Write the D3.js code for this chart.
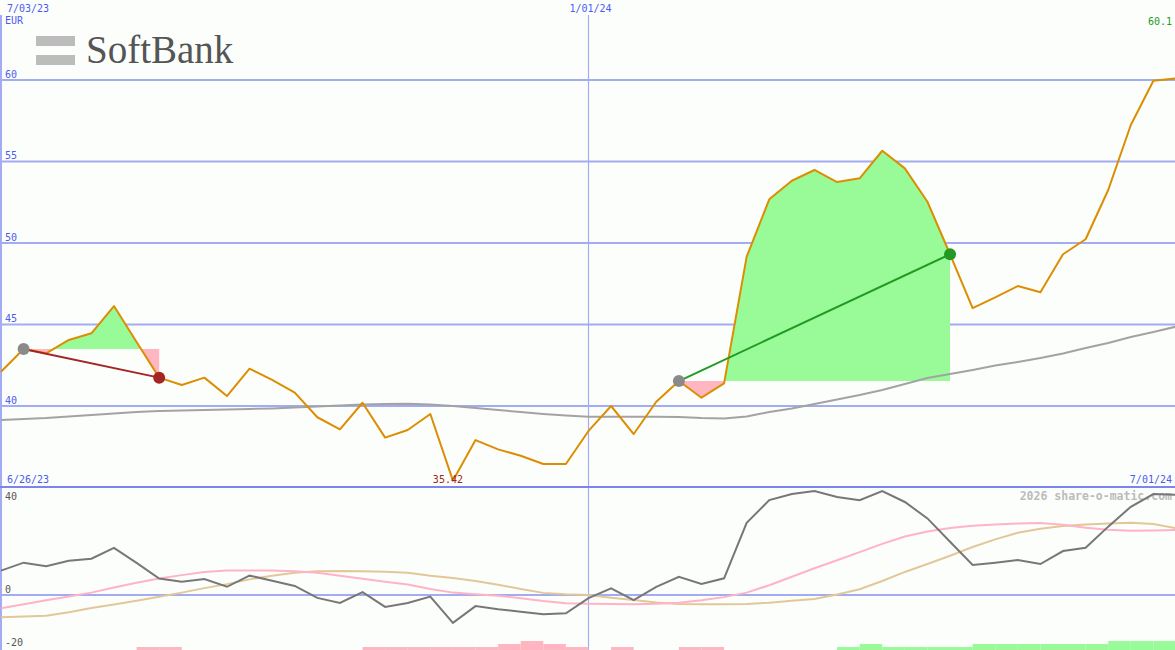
<!DOCTYPE html>
<html><head><meta charset="utf-8">
<script src="https://cdn.jsdelivr.net/npm/d3@7"></script>
<style>
html,body{margin:0;padding:0;background:#fcfefc;}
svg{display:block;}
text{font-family:"DejaVu Sans Mono",monospace;}
</style>
</head><body>
<svg id="c" width="1175" height="650"></svg>
<script>
// ---------- data ----------
const startDate = new Date(2023, 6, 3);
const weekIndex = d3.range(53);
const dates = weekIndex.map(i => d3.timeDay.offset(startDate, 7 * i));

const price = [42.10, 43.50, 43.23, 44.05, 44.46, 46.13, 43.93, 41.74, 41.29, 41.74,
  40.61, 42.29, 41.60, 40.82, 39.31, 38.57, 40.20, 38.06, 38.53, 39.51,
  35.42, 37.91, 37.34, 36.95, 36.44, 36.44, 38.47, 40.00, 38.28, 40.26,
  41.53, 40.51, 41.39, 49.16, 52.68, 53.82, 54.48, 53.74, 53.97, 55.66,
  54.58, 52.53, 49.31, 46.00, 46.67, 47.36, 46.98, 49.31, 50.23, 53.25,
  57.24, 59.95, 60.10];

const movingAvg = [39.14, 39.20, 39.26, 39.36, 39.45, 39.54, 39.63, 39.69, 39.72, 39.75,
  39.79, 39.82, 39.85, 39.91, 39.97, 40.03, 40.09, 40.12, 40.14, 40.09,
  40.00, 39.88, 39.75, 39.63, 39.51, 39.42, 39.34, 39.34, 39.34, 39.34,
  39.33, 39.26, 39.24, 39.36, 39.63, 39.85, 40.12, 40.40, 40.67, 40.98,
  41.35, 41.72, 41.96, 42.21, 42.48, 42.70, 42.94, 43.22, 43.56, 43.87,
  44.23, 44.54, 44.87];

const oscillator = [9.2, 12.2, 10.9, 12.9, 13.7, 17.8, 12.1, 6.2, 5.0, 6.0,
  3.1, 7.3, 5.4, 3.4, -1.1, -3.0, 1.1, -4.5, -3.0, -0.6,
  -10.5, -4.2, -5.4, -6.3, -7.3, -6.9, -1.2, 2.5, -1.9, 3.1,
  6.9, 4.2, 6.3, 27.2, 35.8, 38.1, 39.2, 37.0, 35.8, 39.2,
  35.1, 28.9, 20.1, 11.3, 12.2, 13.2, 11.7, 16.6, 17.8, 25.8,
  33.3, 38.1, 37.8];

const oscFast = [-5.0, -3.5, -2.0, -0.6, 0.9, 2.8, 4.6, 6.2, 7.5, 8.7,
  9.2, 9.2, 9.2, 9.0, 8.4, 7.3, 6.1, 5.0, 4.0, 2.3,
  0.9, 0.3, -0.3, -1.2, -2.3, -3.1, -3.3, -3.4, -3.5, -3.3,
  -2.9, -2.0, -0.8, 0.9, 3.7, 6.9, 10.1, 13.1, 16.2, 19.3,
  22.1, 24.0, 25.3, 26.1, 26.6, 27.0, 27.2, 26.5, 25.4, 24.6,
  24.2, 24.3, 24.5];

const oscSlow = [-8.4, -8.1, -7.8, -6.5, -4.9, -3.6, -2.2, -0.7, 0.9, 2.6,
  4.1, 5.9, 7.3, 8.4, 9.0, 9.1, 9.0, 8.8, 8.4, 7.3,
  6.4, 5.3, 3.9, 2.3, 0.8, 0.3, 0.0, -1.0, -1.9, -2.8,
  -3.4, -3.5, -3.5, -3.4, -2.9, -2.2, -1.5, 0.2, 2.2, 5.3,
  8.7, 11.7, 14.8, 18.1, 21.0, 23.5, 25.0, 26.0, 26.6, 27.0,
  27.3, 26.8, 25.2];

const signalBars = [0, 0, 0, 0, 0, 0, -1, -1, 0, 0,
  0, 0, 0, 0, 0, 0, -1, -1, -1, -1,
  -1, -1, -2, -3, -2, -1, 0, -1, 0, 0,
  -1, -1, 0, 0, 0, 0, 0, 1, 2, 1,
  1, 1, 1, 2, 2, 2, 2, 2, 2, 3,
  3, 3, 0];

const tradeEntries = [1, 30];
const tradeExits = [7, 42];

const priceTicks = [60, 55, 50, 45, 40];
const oscTicks = [40, 0, -20];
const oscGridTicks = [0];
const dateMarks = [0, 26];
const topDateLabels = ["7/03/23", "1/01/24"];
const bottomDateLabels = ["6/26/23", "7/01/24"];
const currency = "EUR";
const companyName = "SoftBank";
const watermark = "2026 share-o-matic.com";

// ---------- drawing ----------
const W = 1175, H = 650;
const svg = d3.select("#c");
const fmt = d3.format(".2f");

const x = d3.scaleTime().domain([dates[0], dates[52]]).range([1, 1176]);
const y = d3.scaleLinear().domain([40, 60]).range([406, 80]);
const yo = d3.scaleLinear().domain([0, 40]).range([595, 489]);
const yb = d3.scaleLinear().domain([0, 3]).range([650, 641]);
const step = x(dates[1]) - x(dates[0]);

const gridCol = "#a3abf2", textBlue = "#4b5cf0";

svg.append("rect").attr("width", W).attr("height", H).attr("fill", "#fcfefc");

// logo
const logo = svg.append("g");
logo.append("rect").attr("x", 36).attr("y", 36).attr("width", 39).attr("height", 10).attr("fill", "#bcbcbc");
logo.append("rect").attr("x", 36).attr("y", 55).attr("width", 39).attr("height", 10).attr("fill", "#bcbcbc");
logo.append("text").text(companyName).attr("x", 86).attr("y", 63)
  .style("font-family", "'Liberation Serif','Times New Roman',serif").style("font-size", "39px")
  .attr("fill", "#555");

// horizontal grid (price)
svg.append("g").selectAll("line").data(priceTicks).join("line")
  .attr("x1", 0).attr("x2", W).attr("y1", d => y(d)).attr("y2", d => y(d))
  .attr("stroke", gridCol).attr("stroke-width", 2);
svg.append("g").selectAll("text").data(priceTicks).join("text")
  .text(d => d).attr("x", 5).attr("y", d => y(d) - 2.5)
  .attr("fill", textBlue).style("font-size", "10px");

// oscillator grid
svg.append("g").selectAll("line").data(oscGridTicks).join("line")
  .attr("x1", 0).attr("x2", W).attr("y1", d => yo(d)).attr("y2", d => yo(d))
  .attr("stroke", gridCol).attr("stroke-width", 2);

// vertical date lines
svg.append("g").selectAll("line").data(dateMarks).join("line")
  .attr("x1", d => x(dates[d])).attr("x2", d => x(dates[d]))
  .attr("y1", 15).attr("y2", H)
  .attr("stroke", gridCol).attr("stroke-width", d => d === 0 ? 2 : 1.2);

// panel separator
svg.append("line").attr("x1", 0).attr("x2", W).attr("y1", 487).attr("y2", 487)
  .attr("stroke", "#7c84ee").attr("stroke-width", 2);

// date labels
svg.append("text").text(topDateLabels[0]).attr("x", 7).attr("y", 12).attr("fill", textBlue).style("font-size", "10px");
svg.append("text").text(topDateLabels[1]).attr("x", x(dates[26]) + 2).attr("y", 12).attr("text-anchor", "middle").attr("fill", textBlue).style("font-size", "10px");
svg.append("text").text(currency).attr("x", 5).attr("y", 24).attr("fill", textBlue).style("font-size", "10px");
svg.append("text").text(bottomDateLabels[0]).attr("x", 7).attr("y", 483).attr("fill", textBlue).style("font-size", "10px");
svg.append("text").text(bottomDateLabels[1]).attr("x", 1172).attr("y", 483).attr("text-anchor", "end").attr("fill", textBlue).style("font-size", "10px");

// trade fills
const defs = svg.append("defs");
tradeEntries.forEach((e, k) => {
  const xEnd = tradeExits[k];
  const base = price[e];
  const idx = d3.range(e, xEnd + 1);
  const area = d3.area().x(i => x(dates[i])).y0(y(base)).y1(i => y(price[i]));
  defs.append("clipPath").attr("id", "up" + k).append("rect")
    .attr("x", 0).attr("y", 0).attr("width", W).attr("height", y(base));
  defs.append("clipPath").attr("id", "dn" + k).append("rect")
    .attr("x", 0).attr("y", y(base)).attr("width", W).attr("height", H - y(base));
  svg.append("path").datum(idx).attr("d", area).attr("fill", "#98fb98").attr("clip-path", `url(#up${k})`);
  svg.append("path").datum(idx).attr("d", area).attr("fill", "#ffb6c1").attr("clip-path", `url(#dn${k})`);
});

// moving average
svg.append("path").datum(weekIndex)
  .attr("d", d3.line().x(i => x(dates[i])).y(i => y(movingAvg[i])))
  .attr("fill", "none").attr("stroke", "#a3a3a3").attr("stroke-width", 2);

// price line
svg.append("path").datum(weekIndex)
  .attr("d", d3.line().x(i => x(dates[i])).y(i => y(price[i])))
  .attr("fill", "none").attr("stroke", "#dc8e02").attr("stroke-width", 2).attr("stroke-linejoin", "round");

// trade lines and markers
tradeEntries.forEach((e, k) => {
  const xe = tradeExits[k];
  const win = price[xe] > price[e];
  const col = win ? "#229a22" : "#a52424";
  svg.append("line").attr("x1", x(dates[e])).attr("y1", y(price[e]))
    .attr("x2", x(dates[xe])).attr("y2", y(price[xe]))
    .attr("stroke", col).attr("stroke-width", 2);
  svg.append("circle").attr("cx", x(dates[e])).attr("cy", y(price[e])).attr("r", 6).attr("fill", "#8a8a8a");
  svg.append("circle").attr("cx", x(dates[xe])).attr("cy", y(price[xe])).attr("r", 6).attr("fill", col);
});

// min / last labels
const minI = d3.minIndex(price);
svg.append("text").text(fmt(price[minI])).attr("x", x(dates[minI]) - 5).attr("y", 483)
  .attr("text-anchor", "middle").attr("fill", "#a52424").style("font-size", "10px");
svg.append("text").text(d3.format(".1f")(price[52])).attr("x", 1172).attr("y", 25)
  .attr("text-anchor", "end").attr("fill", "#229a22").style("font-size", "10px");

// oscillator labels
svg.append("g").selectAll("text").data(oscTicks).join("text")
  .text(d => d).attr("x", 5)
  .attr("y", d => d === 40 ? yo(d) + 11 : yo(d) - 2.5)
  .attr("fill", "#555").style("font-size", "10px");

// watermark
svg.append("text").text(watermark).attr("x", 1172).attr("y", 500).attr("text-anchor", "end")
  .attr("fill", "#bbb").style("font-size", "11.5px").style("font-weight", "bold");

// signal bars
svg.append("g").selectAll("rect").data(weekIndex.filter(i => signalBars[i] !== 0)).join("rect")
  .attr("x", i => x(dates[i])).attr("width", step)
  .attr("y", i => yb(Math.abs(signalBars[i]))).attr("height", i => H - yb(Math.abs(signalBars[i])))
  .attr("fill", i => signalBars[i] > 0 ? "#98fb98" : "#ffb6c1");

// oscillator lines
const oscLine = arr => d3.line().x(i => x(dates[i])).y(i => yo(arr[i]));
svg.append("path").datum(weekIndex).attr("d", oscLine(oscSlow))
  .attr("fill", "none").attr("stroke", "#e2c898").attr("stroke-width", 2);
svg.append("path").datum(weekIndex).attr("d", oscLine(oscFast))
  .attr("fill", "none").attr("stroke", "#ffb3c6").attr("stroke-width", 2);
svg.append("path").datum(weekIndex).attr("d", oscLine(oscillator))
  .attr("fill", "none").attr("stroke", "#777").attr("stroke-width", 2);
</script>
</body></html>
